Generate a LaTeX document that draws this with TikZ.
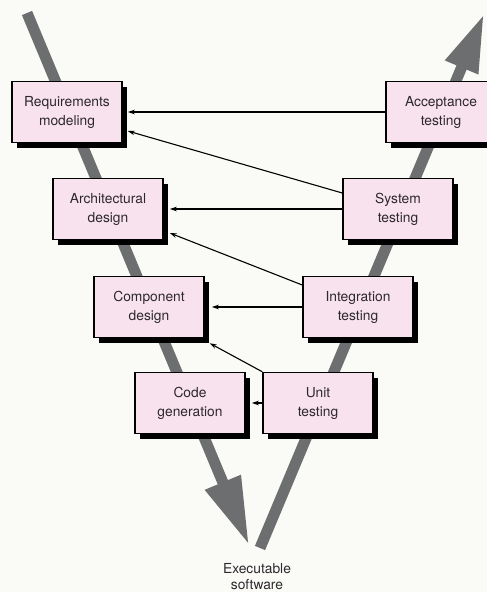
\documentclass[tikz,border=0pt]{standalone}
\usepackage{fontspec}
\setmainfont{TeX Gyre Heros}
\usetikzlibrary{arrows.meta,shadows}
\definecolor{mypink}{RGB}{248,226,238}
\definecolor{mygray}{RGB}{108,110,112}
\definecolor{mybg}{RGB}{250,250,247}
\definecolor{mytext}{RGB}{45,40,45}

\begin{document}
\begin{tikzpicture}[x=1pt, y=-1pt,
    phase/.style={draw, line width=1.5pt, fill=mypink, text=mytext,
        minimum width=110pt, minimum height=61pt, inner sep=0pt, align=center,
        font=\fontsize{13.8}{19}\selectfont,
        drop shadow={shadow xshift=5pt, shadow yshift=-5pt, opacity=1, fill=black}},
    link/.style={-{Stealth[length=7pt, width=4.5pt]}, line width=1.1pt},
    flow/.style={line width=11pt, color=mygray}]
    \useasboundingbox[fill=mybg] (0, 0) rectangle (487, 592);
    % V shape
    \coordinate (LeftTop) at (27, 13);
    \coordinate (Bottom) at (249, 545);
    \coordinate (RightBottom) at (260, 548);
    \coordinate (RightTop) at (484, 14);
    \draw[flow, -{Triangle[length=68pt, width=36pt]}] (LeftTop) -- (Bottom);
    \draw[flow, -{Triangle[length=58pt, width=33pt]}] (RightBottom) -- (RightTop);
    % Left side
    \node[phase] (Req) at (67, 112) {Requirements\\modeling};
    \node[phase] (Arch) at (108, 209) {Architectural\\design};
    \node[phase] (Comp) at (149, 307) {Component\\design};
    \node[phase] (Code) at (190, 403) {Code\\generation};
    % Right side
    \node[phase] (Acc) at (441, 112) {Acceptance\\testing};
    \node[phase] (Sys) at (398, 209) {System\\testing};
    \node[phase] (Integ) at (358, 307) {Integration\\testing};
    \node[phase] (Unit) at (318, 403) {Unit\\testing};
    \node[align=center, text=mytext, font=\fontsize{13.8}{16}\selectfont] (Exe) at (257, 577)
        {Executable\\software};
    % Links
    \draw[link] (Acc.west) -- ([xshift=5pt]Req.east);
    \draw[link] ([yshift=16pt]Sys.west) -- ([xshift=5pt, yshift=-19pt]Req.east);
    \draw[link] (Sys.west) -- ([xshift=6pt]Arch.east);
    \draw[link] ([yshift=22pt]Integ.west) -- ([xshift=6pt, yshift=-24pt]Arch.east);
    \draw[link] (Integ.west) -- ([xshift=7pt]Comp.east);
    \draw[link] (Unit.north west) -- ([xshift=5pt, yshift=-5pt]Comp.south east);
    \draw[link] (Unit.west) -- ([xshift=6pt]Code.east);
\end{tikzpicture}
\end{document}
